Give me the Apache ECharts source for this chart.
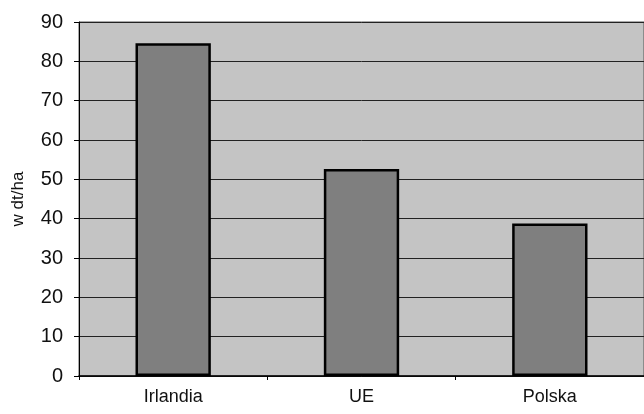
<!DOCTYPE html>
<html><head><meta charset="utf-8">
<script src="https://cdn.jsdelivr.net/npm/echarts@6/dist/echarts.min.js"></script>
<style>html,body{margin:0;padding:0;background:#fff}#c{width:644px;height:414px}</style>
</head><body><div id="c"></div>
<script>
const categories = ['Irlandia', 'UE', 'Polska'];
const values = [84.6, 52.6, 38.8];
const yTitle = 'w dt/ha';

const chart = echarts.init(document.getElementById('c'));
chart.setOption({
  animation: false,
  grid: { left: 79, right: 0, top: 22, bottom: 38, show: true, backgroundColor: '#c4c4c4', borderColor: '#555', borderWidth: 1 },
  xAxis: {
    type: 'category', data: categories,
    axisLine: { lineStyle: { color: '#000', width: 1.5 } },
    axisTick: { show: true, lineStyle: { color: '#000' }, length: 4 },
    axisLabel: { color: '#111', fontFamily: 'Liberation Sans', fontSize: 18, margin: 12 }
  },
  yAxis: {
    type: 'value', min: 0, max: 90, interval: 10,
    name: yTitle, nameLocation: 'middle', nameGap: 52, nameRotate: 90,
    nameTextStyle: { color: '#111', fontFamily: 'Liberation Sans', fontSize: 17 },
    axisLine: { show: true, lineStyle: { color: '#000', width: 1 } },
    axisTick: { show: true, length: 5, lineStyle: { color: '#000' } },
    axisLabel: { color: '#111', fontFamily: 'Liberation Sans', fontSize: 20, margin: 16 },
    splitLine: { lineStyle: { color: '#222', width: 1 } }
  },
  series: [{
    type: 'bar', data: values, barWidth: '40%',
    itemStyle: { color: '#7f7f7f', borderColor: '#000', borderWidth: 2.5 }
  }]
});
</script></body></html>
